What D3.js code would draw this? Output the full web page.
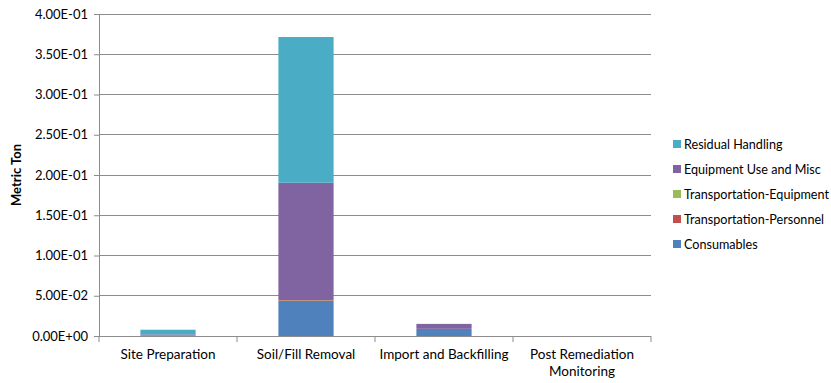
<!DOCTYPE html>
<html><head><meta charset="utf-8">
<script src="https://cdn.jsdelivr.net/npm/d3@7"></script>
<style>body{margin:0;background:#fff}svg{display:block}text{font-family:Lato,"Open Sans",sans-serif}</style>
</head><body><svg id="c" width="831" height="383"></svg>
<script>
const categories = ["Site Preparation","Soil/Fill Removal","Import and Backfilling","Post Remediation Monitoring"];
const seriesNames = ["Consumables","Transportation-Personnel","Transportation-Equipment","Equipment Use and Misc","Residual Handling"];
const consumables = [0.0003, 0.0435, 0.0087, 0];
const transPersonnel = [0.0001, 0.0008, 0.0001, 0];
const transEquipment = [0.0001, 0.0003, 0.0001, 0];
const equipmentUse = [0.0015, 0.1458, 0.0060, 0];
const residualHandling = [0.0058, 0.1810, 0.0002, 0];
const yTicks = [0,0.05,0.1,0.15,0.2,0.25,0.3,0.35,0.4];
const yTickLabels = ["0.00E+00","5.00E-02","1.00E-01","1.50E-01","2.00E-01","2.50E-01","3.00E-01","3.50E-01","4.00E-01"];
const colors = ["#4F81BD","#C0504D","#9BBB59","#8064A2","#4BACC6"];

const svg = d3.select("#c");
const m = {l:99, r:651, t:14, b:336};
const x = d3.scaleBand().domain(categories).range([m.l,m.r]).paddingInner(0.6).paddingOuter(0.3);
const y = d3.scaleLinear().domain([0,0.4]).range([m.b,m.t]);

const data = categories.map((c,i)=>({cat:c, Consumables:consumables[i], "Transportation-Personnel":transPersonnel[i], "Transportation-Equipment":transEquipment[i], "Equipment Use and Misc":equipmentUse[i], "Residual Handling":residualHandling[i]}));
const stack = d3.stack().keys(seriesNames)(data);

// gridlines
svg.append("g").selectAll("line").data(yTicks.slice(1)).join("line")
  .attr("x1",m.l).attr("x2",m.r).attr("y1",d=>y(d)).attr("y2",d=>y(d))
  .attr("stroke","#8c8c8c").attr("stroke-width",1).attr("shape-rendering","crispEdges");

// bars
svg.append("g").selectAll("g").data(stack).join("g").attr("fill",(d,i)=>colors[i])
  .selectAll("rect").data(d=>d).join("rect")
  .attr("x",d=>x(d.data.cat)).attr("width",x.bandwidth())
  .attr("y",d=>y(d[1])).attr("height",d=>Math.max(0,y(d[0])-y(d[1])));

// y axis
const ya = d3.axisLeft(y).tickValues(yTicks).tickFormat((d,i)=>yTickLabels[i]).tickSize(5).tickPadding(6);
const gy = svg.append("g").attr("transform",`translate(${m.l},0)`).call(ya);
gy.select(".domain").attr("stroke","#8c8c8c");
gy.selectAll(".tick line").attr("stroke","#8c8c8c");
gy.selectAll("text").attr("font-size",13).attr("fill","#000");

// x axis
svg.append("line").attr("x1",m.l).attr("x2",m.r).attr("y1",m.b+0.5).attr("y2",m.b+0.5).attr("stroke","#8c8c8c");
const step = (m.r-m.l)/categories.length;
svg.append("g").selectAll("line").data(d3.range(categories.length+1)).join("line")
  .attr("x1",i=>m.l+i*step).attr("x2",i=>m.l+i*step).attr("y1",m.b).attr("y2",m.b+6)
  .attr("stroke","#8c8c8c");
const xl = svg.append("g").selectAll("text").data(categories).join("text")
  .attr("text-anchor","middle").attr("font-size",13.5).attr("fill","#000");
xl.each(function(d){
  const t = d3.select(this); const cx = x(d)+x.bandwidth()/2;
  const lines = d==="Post Remediation Monitoring" ? ["Post Remediation","Monitoring"] : [d];
  lines.forEach((l,j)=>t.append("tspan").attr("x",cx).attr("y",m.b+23+j*17).text(l));
});

// y title
svg.append("text").attr("transform","translate(21,175) rotate(-90)").attr("text-anchor","middle")
  .attr("font-size",13).attr("font-weight","bold").text("Metric Ton");

// legend
const legendOrder = seriesNames.map((s,i)=>({s,c:colors[i]})).reverse();
const lg = svg.append("g").selectAll("g").data(legendOrder).join("g")
  .attr("transform",(d,i)=>`translate(673,${145+i*25})`);
lg.append("rect").attr("x",0).attr("y",-5).attr("width",8).attr("height",8).attr("fill",d=>d.c);
lg.append("text").attr("x",11).attr("y",4).attr("font-size",12.6).text(d=>d.s);
</script></body></html>
